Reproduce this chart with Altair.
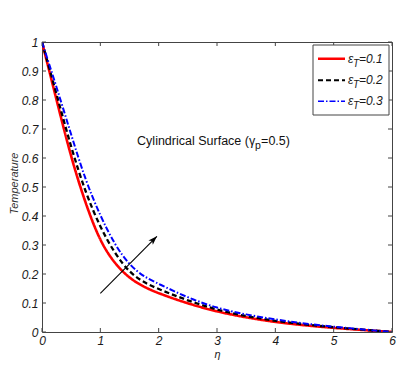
import altair as alt
import pandas as pd

eta = [0, 0.25, 0.5, 0.75, 1, 1.25, 1.5, 1.75, 2, 2.5, 3, 3.5, 4, 4.5, 5, 5.5, 6]
t01 = [1.0, 0.80, 0.60, 0.44, 0.31, 0.235, 0.185, 0.155, 0.133, 0.098, 0.070, 0.050, 0.034, 0.023, 0.014, 0.007, 0.0]
t02 = [1.0, 0.82, 0.635, 0.478, 0.36, 0.27, 0.205, 0.17, 0.148, 0.108, 0.076, 0.054, 0.038, 0.026, 0.016, 0.008, 0.0]
t03 = [1.0, 0.845, 0.68, 0.52, 0.40, 0.30, 0.23, 0.19, 0.166, 0.118, 0.082, 0.060, 0.043, 0.029, 0.018, 0.009, 0.0]

series = ["0.1", "0.2", "0.3"]
colors = ["#ff0000", "#000000", "#0000ff"]
dashes = [[1, 0], [5, 3], [6, 2, 1.5, 2]]
widths = [2.6, 2.0, 1.6]

x_ticks = [0, 1, 2, 3, 4, 5, 6]
y_ticks = [0, 0.1, 0.2, 0.3, 0.4, 0.5, 0.6, 0.7, 0.8, 0.9, 1]

arrow_x = [1.0, 1.97]
arrow_y = [0.133, 0.33]

note_main = "Cylindrical Surface ("
note_sym = "γ"
note_sub = "p"
note_end = "=0.5)"
note_x, note_y = 1.63, 0.645

W, H = 350, 290
FONT = "Liberation Sans"
TXT = "#1a1a1a"
FRAME = "#444444"

rows = []
for s, vals in zip(series, [t01, t02, t03]):
    for e, v in zip(eta, vals):
        rows.append({"eta": e, "theta": v, "s": s})
df = pd.DataFrame(rows)

xs = alt.Scale(domain=[0, 6], nice=False)
ys = alt.Scale(domain=[0, 1], nice=False)

ax_x = alt.Axis(
    values=x_ticks, title="η", titleFont=FONT, titleFontStyle="italic",
    titleFontWeight="normal", titleFontSize=11, titleColor=TXT,
    titleX=175, titleY=22, titleBaseline="middle",
    labelFont=FONT, labelFontStyle="italic", labelFontSize=12, labelColor=TXT,
    labelPadding=3, ticks=False, grid=False, domain=False, labelFlush=False,
    labelOverlap=False, format="~g")
ax_y = alt.Axis(
    values=y_ticks, title="Temperature", titleFont=FONT, titleFontStyle="italic",
    titleFontWeight="normal", titleFontSize=11, titleColor="#333333",
    titleX=-28, titleY=141, titleAngle=-90, titleBaseline="middle", titleAlign="center",
    labelFont=FONT, labelFontStyle="italic", labelFontSize=12, labelColor=TXT,
    labelPadding=4, ticks=False, grid=False, domain=False, labelFlush=False,
    labelOverlap=False, format="~g")

def px(field="eta"):
    return alt.X(f"{field}:Q", scale=xs, axis=ax_x)

def py(field="theta"):
    return alt.Y(f"{field}:Q", scale=ys, axis=ax_y)

lines = alt.Chart(df).mark_line(interpolate="basis", clip=True).encode(
    x=px(), y=py(),
    color=alt.Color("s:N", scale=alt.Scale(domain=series, range=colors), legend=None),
    strokeDash=alt.StrokeDash("s:N", scale=alt.Scale(domain=series, range=dashes), legend=None),
    strokeWidth=alt.StrokeWidth("s:N", scale=alt.Scale(domain=series, range=widths), legend=None),
    order=alt.Order("eta:Q"),
)

xt = pd.DataFrame({"eta": x_ticks})
yt = pd.DataFrame({"theta": y_ticks})
tick_b = alt.Chart(xt).mark_rule(color=FRAME, strokeWidth=1).encode(
    x=px(), y=alt.value(H), y2=alt.value(H - 4))
tick_t = alt.Chart(xt).mark_rule(color=FRAME, strokeWidth=1).encode(
    x=px(), y=alt.value(0), y2=alt.value(4))
tick_l = alt.Chart(yt).mark_rule(color=FRAME, strokeWidth=1).encode(
    y=py(), x=alt.value(0), x2=alt.value(4))
tick_r = alt.Chart(yt).mark_rule(color=FRAME, strokeWidth=1).encode(
    y=py(), x=alt.value(W), x2=alt.value(W - 4))

adf = pd.DataFrame({"eta": arrow_x, "theta": arrow_y})
arrow_line = alt.Chart(adf).mark_line(color="black", strokeWidth=1.1).encode(
    x=px(), y=py())
arrow_head = alt.Chart(adf.tail(1)).mark_point(
    shape="M0,0L-0.6,1.7L0,1.3L0.6,1.7Z", filled=True, color="black",
    opacity=1, size=110, angle=45).encode(x=px(), y=py())

ndf = pd.DataFrame({"eta": [note_x], "theta": [note_y]})
note_font = dict(font=FONT, fontSize=12.5, color="#111111", baseline="alphabetic", align="left")
note1 = alt.Chart(ndf).mark_text(text=note_main, **note_font).encode(x=px(), y=py())
note2 = alt.Chart(ndf).mark_text(text=note_sym, dx=112, **note_font).encode(x=px(), y=py())
note3 = alt.Chart(ndf).mark_text(text=note_sub, dx=118, dy=4, font=FONT, fontSize=10.5,
                                 color="#111111", baseline="alphabetic", align="left").encode(
    x=px(), y=py())
note4 = alt.Chart(ndf).mark_text(text=note_end, dx=124, **note_font).encode(x=px(), y=py())

# legend box (pixel layout in the plot area)
LX0, LX1, LY0, LY1 = 271, 347, 3, 73
row_y = [16.7, 38.3, 59.3]
leg_box = alt.Chart(pd.DataFrame({"a": [0]})).mark_rect(
    fill="white", stroke=FRAME, strokeWidth=1).encode(
    x=alt.value(LX0), x2=alt.value(LX1), y=alt.value(LY0), y2=alt.value(LY1))
legend_layers = [leg_box]
for s, c, d, w, ry in zip(series, colors, dashes, widths, row_y):
    one = pd.DataFrame({"s": [s]})
    legend_layers.append(alt.Chart(one).mark_rule(color=c, strokeDash=d, strokeWidth=w).encode(
        x=alt.value(276), x2=alt.value(303), y=alt.value(ry)))
    legend_layers.append(alt.Chart(one).mark_text(
        text="ε", font=FONT, fontSize=12, fontStyle="italic", color=TXT,
        align="left", baseline="middle").encode(x=alt.value(306), y=alt.value(ry)))
    legend_layers.append(alt.Chart(one).mark_text(
        text="T", font=FONT, fontSize=10, fontStyle="italic", color=TXT,
        align="left", baseline="middle").encode(x=alt.value(311), y=alt.value(ry + 5)))
    legend_layers.append(alt.Chart(one).mark_text(
        font=FONT, fontSize=12, fontStyle="italic", color=TXT,
        align="left", baseline="middle").encode(
        x=alt.value(317), y=alt.value(ry), text=alt.Text("lab:N")).transform_calculate(
        lab="'=' + datum.s"))

chart = alt.layer(
    lines, tick_b, tick_t, tick_l, tick_r, arrow_line, arrow_head,
    note1, note2, note3, note4, *legend_layers
).properties(
    width=W, height=H,
    autosize=alt.AutoSizeParams(type="none"),
    padding={"left": 34, "top": 34, "right": 16, "bottom": 28},
    background="white",
).configure_view(stroke=FRAME, strokeWidth=1)

chart.save("out.html", embed_options={"renderer": "svg", "actions": False})
